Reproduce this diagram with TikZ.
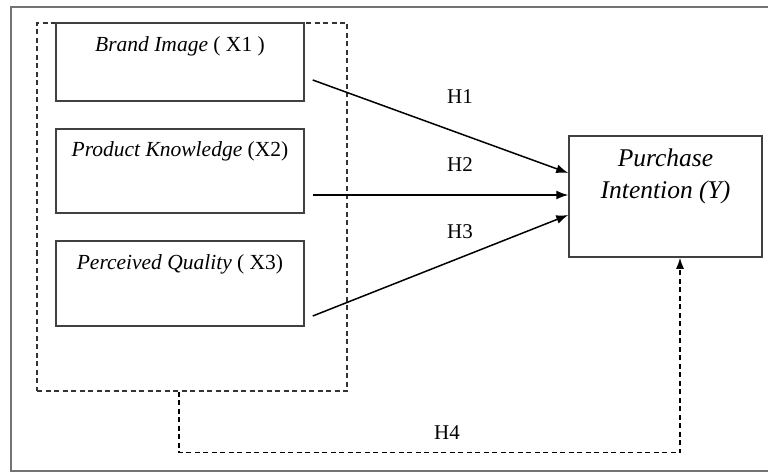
\documentclass[tikz,border=0pt]{standalone}
\usepackage{fontspec}
\setmainfont{Liberation Serif}
\usetikzlibrary{arrows.meta}
\begin{document}
\begin{tikzpicture}[x=1pt,y=-1pt,
  varbox/.style={draw=black!75, line width=1.5pt, minimum width=248pt, inner sep=0pt},
  vartext/.style={anchor=base, inner sep=0pt, font=\fontsize{21.5}{26}\selectfont},
  hlabel/.style={inner sep=0pt, font=\fontsize{21}{25}\selectfont},
  arr/.style={line width=1.5pt, -{Latex[length=12pt,width=9pt]}},
  dsh/.style={line width=1.4pt, dash pattern=on 5pt off 3.5pt}
]
\useasboundingbox (0,0) rectangle (768,473);
% outer frame (right side beyond the page)
\draw[black!55, line width=1.5pt] (790,7) -- (11,7) -- (11,471) -- (790,471);
% dashed group box
\node[draw=black!80, dsh, minimum width=310pt, minimum height=368pt, inner sep=0pt] (grp) at (192,207) {};
% variable boxes
\node[varbox, minimum height=78pt] (b1) at (180,62) {};
\node[varbox, minimum height=84pt] (b2) at (180,171) {};
\node[varbox, minimum height=85pt] (b3) at (180,283.5) {};
\node[vartext] (t1) at ([yshift=-29pt]b1.north) {\textit{Brand Image} ( X1 )};
\node[vartext] (t2) at ([yshift=-28pt]b2.north) {\textit{Product Knowledge} (X2)};
\node[vartext] (t3) at ([yshift=-29pt]b3.north) {\textit{Perceived Quality} ( X3)};
% dependent variable
\node[varbox, minimum width=193pt, minimum height=121pt] (y) at (665.5,196.5) {};
\node[inner sep=0pt, align=center, font=\fontsize{25.5}{32}\selectfont\itshape, anchor=north] (ty) at ([yshift=-13pt]y.north) {Purchase\\Intention (Y)};
% arrows
\draw[arr] ([xshift=8pt,yshift=-18pt]b1.east) -- ([yshift=23.5pt]y.west);
\draw[arr] ([xshift=8pt,yshift=-24pt]b2.east) -- ([yshift=1.5pt]y.west);
\draw[arr] ([xshift=8pt,yshift=-32.5pt]b3.east) -- ([yshift=-18.5pt]y.west);
\node[hlabel] (h1) at (460,97) {H1};
\node[hlabel] (h2) at (460,165) {H2};
\node[hlabel] (h3) at (460,232) {H3};
% H4 dashed path
\coordinate (c1) at ([xshift=-13pt]grp.south);
\draw[dsh, -{Latex[length=11pt,width=8pt]}] (c1) -- ++(0,61) -| ([xshift=14.5pt]y.south);
\node[hlabel] (h4) at (447,433) {H4};
\end{tikzpicture}
\end{document}
